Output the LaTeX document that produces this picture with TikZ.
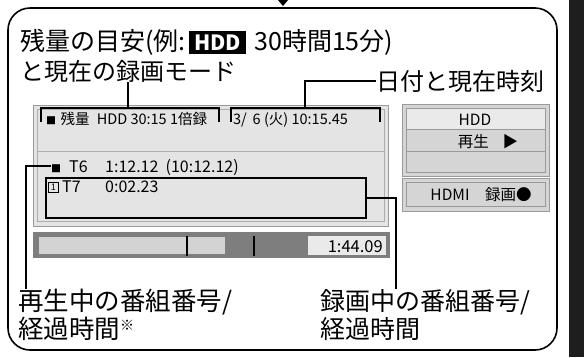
\documentclass[tikz,border=0pt]{standalone}
\usepackage{fontspec}
\setmainfont{Noto Sans CJK JP}
\usetikzlibrary{positioning}

\definecolor{panelfill}{HTML}{E4E4E4}
\definecolor{panelline}{HTML}{9A9A9A}
\definecolor{rowlight}{HTML}{EAEAEA}
\definecolor{rowdark}{HTML}{D5D5D5}
\definecolor{bardark}{HTML}{7E7E7E}
\definecolor{barlight}{HTML}{D3D3D3}
\definecolor{sidebar}{HTML}{1E1E1E}
\newcommand{\osdsq}{{\fontsize{10}{10}\selectfont ■}}

\begin{document}
\begin{tikzpicture}[x=1pt, y=-1pt,
	biglabel/.style={font=\fontsize{25}{27}\selectfont, inner sep=0pt, anchor=base west},
	osd/.style={font=\fontsize{14.5}{16}\selectfont, inner sep=0pt, anchor=base west},
	osdrow/.style={osd, font=\fontsize{16}{18}\selectfont},
	srclabel/.style={font=\fontsize{15.5}{17}\selectfont, inner sep=0pt, anchor=base},
	callout/.style={line width=1.6pt},
	bracket/.style={line width=2.2pt}]
	\useasboundingbox (0,0) rectangle (584,357);
	\fill[sidebar] (569,0) rectangle (584,357);
	\draw[line width=1.6pt, rounded corners=22pt] (8,8) rectangle (557,350);
	\fill (278,0) -- (288,0) -- (283,6) -- cycle;
	% screen
	\draw[panelline, fill=panelfill] (33,105) rectangle (388,226);
	\draw[panelline!80] (37,109) rectangle (384,221);
	\draw[panelline!80] (37,151) -- (384,151);
	\fill[bardark] (33,232) rectangle (390,258);
	\fill[barlight] (39,237) rectangle (225,254);
	\fill[rowlight] (308,236) rectangle (386,255);
	\draw[line width=1.6pt] (187,236) -- (187,256);
	\draw[line width=1.6pt] (254,236) -- (254,256);
	\draw[panelline, fill=rowdark] (402,104) rectangle (549,176);
	\draw[panelline, fill=rowlight] (406,108) rectangle (545,129);
	\draw[panelline] (406,108) rectangle (545,172);
	\draw[panelline] (406,151) -- (545,151);
	\draw[panelline, fill=rowdark] (402,178) rectangle (549,211);
	\draw[panelline] (406,182) rectangle (545,206);
	\node[osd] (remain) at (46,124) {\osdsq\hspace{0.3em}残量\hspace{0.5em}HDD 30:15 1倍録};
	\node[osd] (clock) at (233,124) {3/\hspace{0.4em}6 (火) 10:15.45};
	\node[osdrow] (rowT6) at (51,172) {\osdsq\hspace{0.5em}T6};
	\node[osdrow] (timeT6) at (105,172) {1:12.12\hspace{0.45em}(10:12.12)};
	\node[draw, line width=0.6pt, inner sep=0.8pt, font=\fontsize{9}{9}\selectfont, minimum size=10pt, anchor=north west] (tuner) at (48,182) {1};
	\node[osdrow] (rowT7) at (62,192) {T7};
	\node[osdrow] (timeT7) at (105,192) {0:02.23};
	\node[osd, font=\fontsize{16.5}{18}\selectfont, anchor=base east] (bartime) at (383,252) {1:44.09};
	\node[srclabel] (srcHDD) at (475,125) {HDD};
	\node[srclabel] (srcPlay) at (488,147) {再生\hspace{0.9em}▶};
	\node[srclabel] (srcHDMI) at (481,200) {HDMI\hspace{1em}録画●};
	\node[draw, line width=2pt, minimum width=320pt, minimum height=40pt, anchor=north west] (recbox) at (45,177) {};
	% callouts
	\node[biglabel] (lbltopa) at (20,50) {残量の目安(例:};
	\node[biglabel, base right=3pt of lbltopa, fill=black, text=white, font=\bfseries\fontsize{21}{21}\selectfont, inner xsep=5pt, minimum height=23pt] (hdd) {HDD};
	\node[biglabel, base right=8pt of hdd] (lbltopb) {30時間15分)};
	\node[biglabel, font=\fontsize{24}{26}\selectfont] (lblmode) at (20,80) {と現在の録画モード};
	\node[biglabel, font=\fontsize{24}{26}\selectfont] (lbldate) at (376,90) {日付と現在時刻};
	\node[biglabel, font=\fontsize{25.5}{27}\selectfont] (lblplay) at (18,310) {再生中の番組番号/};
	\node[biglabel, font=\fontsize{25.5}{27}\selectfont] (lblplaytime) at (18,338) {経過時間{\fontsize{14}{14}\selectfont\raisebox{0.55em}{※}}};
	\node[biglabel] (lblrec) at (320,310) {録画中の番組番号/};
	\node[biglabel] (lblrectime) at (320,338) {経過時間};
	\draw[bracket] (41,122) -- (41,108) -- (219,108) -- (219,122);
	\draw[bracket] (231,122) -- (231,108) -- (380,108) -- (380,122);
	\coordinate (brkA) at (128,108);
	\coordinate (brkB) at (305,108);
	\coordinate (playtop) at (26,289);
	\coordinate (rectop) at (396,289);
	\draw[callout] (lblmode.south -| brkA) -- (brkA);
	\draw[callout] (lbldate.west) -| (brkB);
	\draw[callout] (rowT6.west) -| (playtop);
	\draw[callout] (recbox.east) -| (rectop);
\end{tikzpicture}
\end{document}
